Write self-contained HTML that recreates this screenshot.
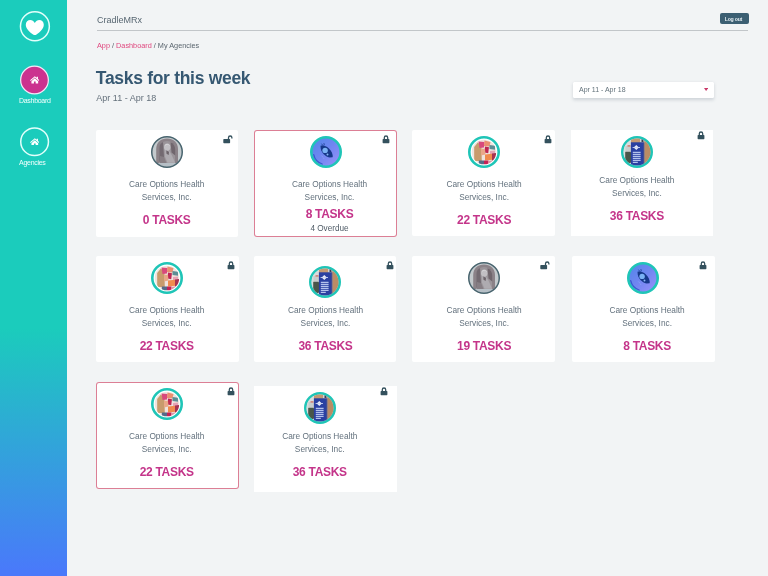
<!DOCTYPE html>
<html><head><meta charset="utf-8"><title>CradleMRx</title>
<style>
html,body{margin:0;padding:0}
body{width:768px;height:576px;position:relative;overflow:hidden;background:#f2f4f5;font-family:"Liberation Sans",sans-serif;color:#5b6b78}
div,svg{position:absolute}
.av svg{position:static;display:block}
#side{left:0;top:0;width:67px;height:576px;background:linear-gradient(180deg,#1bccbc 0%,#1bccbc 57%,#4a78fb 100%)}
.circ{border-radius:50%;box-sizing:border-box}
.sl{color:#f2fffd;font-size:7px;letter-spacing:-0.280px;width:67px;left:0;text-align:center;line-height:8px}
#brand{left:97px;top:14.700px;font-size:9px;line-height:11px;color:#586772}
#hr{left:97px;top:30px;width:651px;height:1px;background:#c2c6c9}
#logout{left:720px;top:13px;width:29px;height:11px;background:#3c5f72;border-radius:2px;color:#e3edf1;text-indent:-2.200px;font-weight:700;font-size:5.200px;line-height:12.400px;text-align:center;letter-spacing:-0.250px}
#bc{left:97px;top:41px;font-size:7.300px;line-height:9px;color:#5a656e;white-space:nowrap}
#bc b{font-weight:400;color:#e0487f}
#title{left:95.800px;top:67.400px;font-size:17.5px;line-height:22px;font-weight:700;color:#365872;letter-spacing:-0.300px;white-space:nowrap}
#sub{left:96.300px;top:92.700px;font-size:9px;line-height:11px;color:#64707b;white-space:nowrap}
#dd{left:573.100px;top:81.600px;width:140.600px;height:16.700px;background:#fff;border-radius:1.500px;box-shadow:0 1.200px 3.500px rgba(60,80,100,.200)}
#ddt{left:579px;top:85px;font-size:7px;line-height:9px;color:#62717a;white-space:nowrap}
#car{left:704.100px;top:88px}
.card{background:#fff}
.nm{width:120px;text-align:center;font-size:8.3px;line-height:12px;color:#63717d;white-space:nowrap}
.tk{width:120px;text-align:center;font-size:12px;line-height:16px;font-weight:700;color:#c4358a;letter-spacing:-0.3px;white-space:nowrap}
.od{width:120px;text-align:center;font-size:8.2px;line-height:12px;color:#4f5b66;white-space:nowrap}
#wrap{left:0;top:0;width:768px;height:576px;will-change:transform;transform:translateZ(0)}
</style></head><body><div id="wrap">
<div id="side"></div>
<svg style="left:0;top:0" width="67" height="180" viewBox="0 0 67 180">
<circle cx="34.900" cy="26.200" r="14.450" fill="none" stroke="#e2fffb" stroke-width="1.500"/>
<path transform="translate(25.800,19.900)" d="M9 3C8 1 6.200 0 4.600 0C2 0 0 2 0 4.800C0 8.500 3.500 12 7.300 14.600C8.300 15.300 9.700 15.300 10.700 14.600C14.500 12 18 8.500 18 4.800C18 2 16 0 13.400 0C11.800 0 10 1 9 3Z" fill="#fff"/>
<circle cx="34.500" cy="80" r="13.850" fill="#cb338f" stroke="#f4e9f7" stroke-width="1.200"/>
<circle cx="34.600" cy="141.750" r="13.850" fill="none" stroke="#e2fffb" stroke-width="1.500"/>
</svg>
<svg style="position:absolute;left:29.7px;top:76.2px" width="9.600" height="7.800" viewBox="0 0 10 8"><path d="M5 0.200L0.100 4.300L0.800 5.100L5 1.600L9.200 5.100L9.900 4.300L8.300 2.950V0.800H7V1.850Z" fill="#fff"/><path d="M5 2.400L1.500 5.300V7.800H4.100V5.700H5.900V7.800H8.500V5.300Z" fill="#fff"/></svg>
<div class="sl" style="top:97px;left:1.300px" id="l1">Dashboard</div>
<svg style="position:absolute;left:29.8px;top:137.6px" width="9.600" height="7.800" viewBox="0 0 10 8"><path d="M5 0.200L0.100 4.300L0.800 5.100L5 1.600L9.200 5.100L9.900 4.300L8.300 2.950V0.800H7V1.850Z" fill="#fff"/><path d="M5 2.400L1.500 5.300V7.800H4.100V5.700H5.900V7.800H8.500V5.300Z" fill="#fff"/></svg>
<div class="sl" style="top:158.700px;left:-1.200px" id="l2">Agencies</div>
<div id="brand">CradleMRx</div><div id="hr"></div><div id="logout">Log out</div>
<div id="bc"><b>App</b> / <b>Dashboard</b> / My Agencies</div>
<div id="title">Tasks for this week</div>
<div id="sub">Apr 11 - Apr 18</div>
<div id="dd"></div><div id="ddt">Apr 11 - Apr 18</div><svg id="car" width="4.200" height="3" viewBox="0 0 4.200 3"><path d="M0 0h4.200L2.100 2.900z" fill="#c93a6a"/></svg>
<div class="card" style="left:96px;top:130.3px;width:142.3px;height:106.3px;border-radius:2px;"></div>
<div class="av" style="left:150.90px;top:135.60px"><svg width="32" height="32" viewBox="0 0 32 32"><defs><clipPath id="cS1"><circle cx="16" cy="16" r="14.700"/></clipPath><filter id="fS1" x="-10%" y="-10%" width="120%" height="120%"><feGaussianBlur stdDeviation="0.600"/></filter></defs>
<circle cx="16" cy="16" r="15.300" fill="#c6cccf"/>
<g clip-path="url(#cS1)"><g filter="url(#fS1)">
<rect x="0" y="0" width="32" height="32" fill="#c4cacd"/>
<path d="M5.200 29V13C5.200 6 10 2.400 16 2.400S27 6 27 13V29Z" fill="#8b8288"/>
<path d="M8 27V13.500C8 8 12 5 16 5S24 8 24 13.500V27Z" fill="#9a9499"/>
<path d="M8.300 12c0-3 1.500-5 3.700-6l1.200 17.500-4.900 2.500z" fill="#736b71"/>
<path d="M19.500 6.300c3 1 4.700 3.700 4.700 7.200v6l-3.700-3z" fill="#6f666d"/>
<ellipse cx="16.200" cy="11.200" rx="3.200" ry="3.700" fill="#c2c0c4"/>
<path d="M14 9.500c1-1.500 3.500-1.500 4.500 0" stroke="#d6d5d8" stroke-width="1" fill="none"/>
<path d="M13.600 13.800l4.800 1.200 2.400 4.300 3.400 7.500h-7.700l-2.500-6z" fill="#aeabb0"/>
<path d="M15.300 14.500l2.700 1.200-0.300 3.300-2.200-1.200z" fill="#6d656b"/>
<path d="M9 20l4 1 2.500 6H9z" fill="#867e84"/>
<rect x="4" y="27" width="24" height="5" fill="#b6bfc6"/>
</g></g>
<circle cx="16" cy="16" r="15.250" fill="none" stroke="#48646e" stroke-width="1.500"/></svg></div>
<div class="nm" style="left:106.70px;top:178px">Care Options Health</div>
<div class="nm" style="left:106.70px;top:191px">Services, Inc.</div>
<div class="tk" style="left:106.70px;top:212px">0 TASKS</div>
<svg class="lk" style="left:223px;top:135.2px" width="10" height="9" viewBox="0 0 10 9"><path d="M5.500 4.300V2.700a1.700 1.700 0 0 1 3.400 0v0.900" fill="none" stroke="#34515d" stroke-width="1.300"/><rect x="0.300" y="4" width="6.800" height="4.300" rx="0.700" fill="#34515d"/></svg>
<div class="card" style="left:253.9px;top:129.6px;width:143.1px;height:107px;border-radius:3px;box-shadow:inset 0 0 0 1px #dc7f95;"></div>
<div class="av" style="left:309.50px;top:135.60px"><svg width="32" height="32" viewBox="0 0 32 32"><defs><linearGradient id="gR7" x1="0.100" y1="0.100" x2="0.900" y2="0.900"><stop offset="0" stop-color="#5586ea"/><stop offset="0.500" stop-color="#7186f1"/><stop offset="1" stop-color="#9390f8"/></linearGradient><filter id="fR7" x="-20%" y="-20%" width="140%" height="140%"><feGaussianBlur stdDeviation="0.350"/></filter></defs>
<circle cx="16" cy="16" r="14.700" fill="url(#gR7)" stroke="#1fc5b7" stroke-width="2.600"/>
<path d="M3.700 18.700A12.600 12.600 0 0 0 12.200 28" fill="none" stroke="#2f55c8" stroke-width="1.300" stroke-linecap="round" opacity="0.850" filter="url(#fR7)"/>
<g filter="url(#fR7)"><path d="M10.500 9.700C14 8.500 19.200 10.800 21.700 16.300C22.800 18.800 23 20.500 22.500 21.300L19.500 21.500C15 20.600 10.300 16 10.500 9.700Z" fill="#17398a"/>
<path d="M11.500 7.700L13 9.700M13.900 7.100L14.300 9.100" stroke="#1c3f90" stroke-width="0.800"/>
<circle cx="15.100" cy="14.400" r="2.700" fill="#7ab1f5"/>
<circle cx="17.500" cy="18.500" r="0.950" fill="#8ab8f6"/>
<path d="M11.300 19.500l1.500 1.500M12.800 21.800l1.500 0.800" stroke="#9fb2f7" stroke-width="0.700" opacity="0.700"/></g></svg></div>
<div class="nm" style="left:269.50px;top:178px">Care Options Health</div>
<div class="nm" style="left:269.50px;top:191px">Services, Inc.</div>
<div class="tk" style="left:269.50px;top:206px">8 TASKS</div>
<div class="od" style="left:269.50px;top:223px">4 Overdue</div>
<svg class="lk" style="left:381.7px;top:134.9px" width="8" height="9" viewBox="0 0 8 9"><path d="M2.300 4.300V2.700a1.700 1.700 0 0 1 3.400 0v1.600" fill="none" stroke="#34515d" stroke-width="1.300"/><rect x="0.600" y="4" width="6.800" height="4.300" rx="0.700" fill="#34515d"/></svg>
<div class="card" style="left:412.2px;top:130.3px;width:143.05px;height:106px;border-radius:2px;"></div>
<div class="av" style="left:468.00px;top:135.60px"><svg width="32" height="32" viewBox="0 0 32 32"><defs><clipPath id="cC14"><circle cx="16" cy="16" r="12.300"/></clipPath><filter id="fC14" x="-10%" y="-10%" width="120%" height="120%"><feGaussianBlur stdDeviation="0.600"/></filter></defs>
<circle cx="16" cy="16" r="14.700" fill="#fff" stroke="#1fc5b7" stroke-width="2.600"/>
<g clip-path="url(#cC14)"><g filter="url(#fC14)"><rect x="3" y="3" width="26" height="26" fill="#efe4df"/>
<path d="M6.200 11l3.600-4.600 3.600 3.600 0.400 15-7.600 0z" fill="#c89b6c"/>
<path d="M10.500 5.500l6 0.500-0.500 5.500-4.500 0.500z" fill="#d84a7c"/>
<path d="M16.500 4.500l6 1.500-1 4.500-5.500-0.500z" fill="#ea8f70"/>
<path d="M21.500 9l5.500 0.700v4l-5.500-0.700z" fill="#5b8d94"/>
<path d="M17 10.500l4 0.800-0.800 6-3.800-0.800z" fill="#bf2852"/>
<path d="M13 12.500l4 0.500 0.500 5.500-4.500 1z" fill="#e9a888"/>
<path d="M22 15l5-0.500 0 4-5 0.500z" fill="#e7a3b4"/>
<path d="M17 18.500l7-0.700 0.500 6-7.500 0.700z" fill="#f08c4e"/>
<path d="M24 17.500l4-0.500v7l-4 0.800z" fill="#a83250"/>
<path d="M10.800 24.500l5.200 0 0 5-5.200-0.500z" fill="#566a88"/>
<path d="M16 24.500l4.500 0 0 5-4.500 0z" fill="#c32357"/>
<path d="M20.500 25l5-0.800 0 4.500-5 0.800z" fill="#dc94a4"/></g></g></svg></div>
<div class="nm" style="left:424.10px;top:178px">Care Options Health</div>
<div class="nm" style="left:424.10px;top:191px">Services, Inc.</div>
<div class="tk" style="left:424.10px;top:212px">22 TASKS</div>
<svg class="lk" style="left:543.8px;top:134.9px" width="8" height="9" viewBox="0 0 8 9"><path d="M2.300 4.300V2.700a1.700 1.700 0 0 1 3.400 0v1.600" fill="none" stroke="#34515d" stroke-width="1.300"/><rect x="0.600" y="4" width="6.800" height="4.300" rx="0.700" fill="#34515d"/></svg>
<div class="card" style="left:571.2px;top:130px;width:142.3px;height:105.8px;border-radius:0px;"></div>
<div class="av" style="left:621.00px;top:135.60px"><svg width="32" height="32" viewBox="0 0 32 32"><defs><clipPath id="cG20"><circle cx="16" cy="16" r="13.500"/></clipPath><filter id="fG20" x="-10%" y="-10%" width="120%" height="120%"><feGaussianBlur stdDeviation="0.450"/></filter></defs>
<circle cx="16" cy="16" r="14.700" fill="#dde1e3" stroke="#1fc5b7" stroke-width="2.600"/>
<g clip-path="url(#cG20)"><g filter="url(#fG20)"><rect x="2" y="2" width="10" height="28" fill="#d9dcdd"/>
<rect x="4.200" y="15.500" width="5.800" height="11.500" rx="1" fill="#4a5648"/><rect x="4.500" y="10" width="5.500" height="5.500" fill="#c9cdcc"/><rect x="6.500" y="9" width="3" height="1.800" fill="#d08a80"/>
<rect x="23.300" y="2" width="8" height="28" fill="#ba8c65"/>
<rect x="10" y="2" width="12.500" height="5" fill="#c49973"/><rect x="19" y="2" width="4" height="4.500" fill="#cfd3d6"/><rect x="20.500" y="3" width="2" height="3" fill="#3b4254"/>
<rect x="9.900" y="6.300" width="12.500" height="23.500" fill="#2a3fa2"/>
<rect x="22.300" y="6.300" width="1" height="23.500" fill="#1d2a78"/>
<path d="M15.300 8.900l2.600 2.600-2.600 2.600-2.600-2.600z" fill="#e6ebf8"/><path d="M11.600 11.500h7.400" stroke="#cbd4f2" stroke-width="0.900"/>
<path d="M11.800 16.300h7.800M11.800 18.300h7.800M11.800 20.300h7.800M11.800 22.300h7.800M11.800 24.300h7.800M11.800 26.400h5" stroke="#b3c1ec" stroke-width="1.250"/></g></g></svg></div>
<div class="nm" style="left:576.90px;top:174px">Care Options Health</div>
<div class="nm" style="left:576.90px;top:187px">Services, Inc.</div>
<div class="tk" style="left:576.90px;top:208px">36 TASKS</div>
<svg class="lk" style="left:696.8px;top:131.2px" width="8" height="9" viewBox="0 0 8 9"><path d="M2.300 4.300V2.700a1.700 1.700 0 0 1 3.400 0v1.600" fill="none" stroke="#34515d" stroke-width="1.300"/><rect x="0.600" y="4" width="6.800" height="4.300" rx="0.700" fill="#34515d"/></svg>
<div class="card" style="left:96px;top:255.7px;width:142.5px;height:106.5px;border-radius:2px;"></div>
<div class="av" style="left:150.90px;top:261.65px"><svg width="32" height="32" viewBox="0 0 32 32"><defs><clipPath id="cC26"><circle cx="16" cy="16" r="12.300"/></clipPath><filter id="fC26" x="-10%" y="-10%" width="120%" height="120%"><feGaussianBlur stdDeviation="0.600"/></filter></defs>
<circle cx="16" cy="16" r="14.700" fill="#fff" stroke="#1fc5b7" stroke-width="2.600"/>
<g clip-path="url(#cC26)"><g filter="url(#fC26)"><rect x="3" y="3" width="26" height="26" fill="#efe4df"/>
<path d="M6.200 11l3.600-4.600 3.600 3.600 0.400 15-7.600 0z" fill="#c89b6c"/>
<path d="M10.500 5.500l6 0.500-0.500 5.500-4.500 0.500z" fill="#d84a7c"/>
<path d="M16.500 4.500l6 1.500-1 4.500-5.500-0.500z" fill="#ea8f70"/>
<path d="M21.500 9l5.500 0.700v4l-5.500-0.700z" fill="#5b8d94"/>
<path d="M17 10.500l4 0.800-0.800 6-3.800-0.800z" fill="#bf2852"/>
<path d="M13 12.500l4 0.500 0.500 5.500-4.500 1z" fill="#e9a888"/>
<path d="M22 15l5-0.500 0 4-5 0.500z" fill="#e7a3b4"/>
<path d="M17 18.500l7-0.700 0.500 6-7.500 0.700z" fill="#f08c4e"/>
<path d="M24 17.500l4-0.500v7l-4 0.800z" fill="#a83250"/>
<path d="M10.800 24.500l5.200 0 0 5-5.200-0.500z" fill="#566a88"/>
<path d="M16 24.500l4.500 0 0 5-4.500 0z" fill="#c32357"/>
<path d="M20.500 25l5-0.800 0 4.500-5 0.800z" fill="#dc94a4"/></g></g></svg></div>
<div class="nm" style="left:106.70px;top:304px">Care Options Health</div>
<div class="nm" style="left:106.70px;top:317px">Services, Inc.</div>
<div class="tk" style="left:106.70px;top:338px">22 TASKS</div>
<svg class="lk" style="left:226.9px;top:260.9px" width="8" height="9" viewBox="0 0 8 9"><path d="M2.300 4.300V2.700a1.700 1.700 0 0 1 3.400 0v1.600" fill="none" stroke="#34515d" stroke-width="1.300"/><rect x="0.600" y="4" width="6.800" height="4.300" rx="0.700" fill="#34515d"/></svg>
<div class="card" style="left:254.2px;top:255.7px;width:142px;height:106.8px;border-radius:2px;"></div>
<div class="av" style="left:309.10px;top:265.50px"><svg width="32" height="32" viewBox="0 0 32 32"><defs><clipPath id="cG32"><circle cx="16" cy="16" r="13.500"/></clipPath><filter id="fG32" x="-10%" y="-10%" width="120%" height="120%"><feGaussianBlur stdDeviation="0.450"/></filter></defs>
<circle cx="16" cy="16" r="14.700" fill="#dde1e3" stroke="#1fc5b7" stroke-width="2.600"/>
<g clip-path="url(#cG32)"><g filter="url(#fG32)"><rect x="2" y="2" width="10" height="28" fill="#d9dcdd"/>
<rect x="4.200" y="15.500" width="5.800" height="11.500" rx="1" fill="#4a5648"/><rect x="4.500" y="10" width="5.500" height="5.500" fill="#c9cdcc"/><rect x="6.500" y="9" width="3" height="1.800" fill="#d08a80"/>
<rect x="23.300" y="2" width="8" height="28" fill="#ba8c65"/>
<rect x="10" y="2" width="12.500" height="5" fill="#c49973"/><rect x="19" y="2" width="4" height="4.500" fill="#cfd3d6"/><rect x="20.500" y="3" width="2" height="3" fill="#3b4254"/>
<rect x="9.900" y="6.300" width="12.500" height="23.500" fill="#2a3fa2"/>
<rect x="22.300" y="6.300" width="1" height="23.500" fill="#1d2a78"/>
<path d="M15.300 8.900l2.600 2.600-2.600 2.600-2.600-2.600z" fill="#e6ebf8"/><path d="M11.600 11.500h7.400" stroke="#cbd4f2" stroke-width="0.900"/>
<path d="M11.800 16.300h7.800M11.800 18.300h7.800M11.800 20.300h7.800M11.800 22.300h7.800M11.800 24.300h7.800M11.800 26.400h5" stroke="#b3c1ec" stroke-width="1.250"/></g></g></svg></div>
<div class="nm" style="left:265.50px;top:304px">Care Options Health</div>
<div class="nm" style="left:265.50px;top:317px">Services, Inc.</div>
<div class="tk" style="left:265.50px;top:338px">36 TASKS</div>
<svg class="lk" style="left:385.6px;top:260.9px" width="8" height="9" viewBox="0 0 8 9"><path d="M2.300 4.300V2.700a1.700 1.700 0 0 1 3.400 0v1.600" fill="none" stroke="#34515d" stroke-width="1.300"/><rect x="0.600" y="4" width="6.800" height="4.300" rx="0.700" fill="#34515d"/></svg>
<div class="card" style="left:412.2px;top:255.9px;width:143.1px;height:106.4px;border-radius:2px;"></div>
<div class="av" style="left:468.00px;top:261.65px"><svg width="32" height="32" viewBox="0 0 32 32"><defs><clipPath id="cS38"><circle cx="16" cy="16" r="14.700"/></clipPath><filter id="fS38" x="-10%" y="-10%" width="120%" height="120%"><feGaussianBlur stdDeviation="0.600"/></filter></defs>
<circle cx="16" cy="16" r="15.300" fill="#c6cccf"/>
<g clip-path="url(#cS38)"><g filter="url(#fS38)">
<rect x="0" y="0" width="32" height="32" fill="#c4cacd"/>
<path d="M5.200 29V13C5.200 6 10 2.400 16 2.400S27 6 27 13V29Z" fill="#8b8288"/>
<path d="M8 27V13.500C8 8 12 5 16 5S24 8 24 13.500V27Z" fill="#9a9499"/>
<path d="M8.300 12c0-3 1.500-5 3.700-6l1.200 17.500-4.900 2.500z" fill="#736b71"/>
<path d="M19.500 6.300c3 1 4.700 3.700 4.700 7.200v6l-3.700-3z" fill="#6f666d"/>
<ellipse cx="16.200" cy="11.200" rx="3.200" ry="3.700" fill="#c2c0c4"/>
<path d="M14 9.500c1-1.500 3.500-1.500 4.500 0" stroke="#d6d5d8" stroke-width="1" fill="none"/>
<path d="M13.600 13.800l4.800 1.200 2.400 4.300 3.400 7.500h-7.700l-2.500-6z" fill="#aeabb0"/>
<path d="M15.300 14.500l2.700 1.200-0.300 3.300-2.200-1.200z" fill="#6d656b"/>
<path d="M9 20l4 1 2.500 6H9z" fill="#867e84"/>
<rect x="4" y="27" width="24" height="5" fill="#b6bfc6"/>
</g></g>
<circle cx="16" cy="16" r="15.250" fill="none" stroke="#48646e" stroke-width="1.500"/></svg></div>
<div class="nm" style="left:424.10px;top:304px">Care Options Health</div>
<div class="nm" style="left:424.10px;top:317px">Services, Inc.</div>
<div class="tk" style="left:424.10px;top:338px">19 TASKS</div>
<svg class="lk" style="left:540px;top:261.2px" width="10" height="9" viewBox="0 0 10 9"><path d="M5.500 4.300V2.700a1.700 1.700 0 0 1 3.400 0v0.900" fill="none" stroke="#34515d" stroke-width="1.300"/><rect x="0.300" y="4" width="6.800" height="4.300" rx="0.700" fill="#34515d"/></svg>
<div class="card" style="left:571.7px;top:255.7px;width:143px;height:106.6px;border-radius:2px;"></div>
<div class="av" style="left:627.00px;top:261.65px"><svg width="32" height="32" viewBox="0 0 32 32"><defs><linearGradient id="gR44" x1="0.100" y1="0.100" x2="0.900" y2="0.900"><stop offset="0" stop-color="#5586ea"/><stop offset="0.500" stop-color="#7186f1"/><stop offset="1" stop-color="#9390f8"/></linearGradient><filter id="fR44" x="-20%" y="-20%" width="140%" height="140%"><feGaussianBlur stdDeviation="0.350"/></filter></defs>
<circle cx="16" cy="16" r="14.700" fill="url(#gR44)" stroke="#1fc5b7" stroke-width="2.600"/>
<path d="M3.700 18.700A12.600 12.600 0 0 0 12.200 28" fill="none" stroke="#2f55c8" stroke-width="1.300" stroke-linecap="round" opacity="0.850" filter="url(#fR44)"/>
<g filter="url(#fR44)"><path d="M10.500 9.700C14 8.500 19.200 10.800 21.700 16.300C22.800 18.800 23 20.500 22.500 21.300L19.500 21.500C15 20.600 10.300 16 10.500 9.700Z" fill="#17398a"/>
<path d="M11.500 7.700L13 9.700M13.900 7.100L14.300 9.100" stroke="#1c3f90" stroke-width="0.800"/>
<circle cx="15.100" cy="14.400" r="2.700" fill="#7ab1f5"/>
<circle cx="17.500" cy="18.500" r="0.950" fill="#8ab8f6"/>
<path d="M11.300 19.500l1.500 1.500M12.800 21.800l1.500 0.800" stroke="#9fb2f7" stroke-width="0.700" opacity="0.700"/></g></svg></div>
<div class="nm" style="left:587.10px;top:304px">Care Options Health</div>
<div class="nm" style="left:587.10px;top:317px">Services, Inc.</div>
<div class="tk" style="left:587.10px;top:338px">8 TASKS</div>
<svg class="lk" style="left:699.1px;top:260.9px" width="8" height="9" viewBox="0 0 8 9"><path d="M2.300 4.300V2.700a1.700 1.700 0 0 1 3.400 0v1.600" fill="none" stroke="#34515d" stroke-width="1.300"/><rect x="0.600" y="4" width="6.800" height="4.300" rx="0.700" fill="#34515d"/></svg>
<div class="card" style="left:95.5px;top:381.5px;width:143.3px;height:107.4px;border-radius:3px;box-shadow:inset 0 0 0 1px #dc7f95;"></div>
<div class="av" style="left:150.90px;top:387.65px"><svg width="32" height="32" viewBox="0 0 32 32"><defs><clipPath id="cC50"><circle cx="16" cy="16" r="12.300"/></clipPath><filter id="fC50" x="-10%" y="-10%" width="120%" height="120%"><feGaussianBlur stdDeviation="0.600"/></filter></defs>
<circle cx="16" cy="16" r="14.700" fill="#fff" stroke="#1fc5b7" stroke-width="2.600"/>
<g clip-path="url(#cC50)"><g filter="url(#fC50)"><rect x="3" y="3" width="26" height="26" fill="#efe4df"/>
<path d="M6.200 11l3.600-4.600 3.600 3.600 0.400 15-7.600 0z" fill="#c89b6c"/>
<path d="M10.500 5.500l6 0.500-0.500 5.500-4.500 0.500z" fill="#d84a7c"/>
<path d="M16.500 4.500l6 1.500-1 4.500-5.500-0.500z" fill="#ea8f70"/>
<path d="M21.500 9l5.500 0.700v4l-5.500-0.700z" fill="#5b8d94"/>
<path d="M17 10.500l4 0.800-0.800 6-3.800-0.800z" fill="#bf2852"/>
<path d="M13 12.500l4 0.500 0.500 5.500-4.500 1z" fill="#e9a888"/>
<path d="M22 15l5-0.500 0 4-5 0.500z" fill="#e7a3b4"/>
<path d="M17 18.500l7-0.700 0.500 6-7.500 0.700z" fill="#f08c4e"/>
<path d="M24 17.500l4-0.500v7l-4 0.800z" fill="#a83250"/>
<path d="M10.800 24.500l5.200 0 0 5-5.200-0.500z" fill="#566a88"/>
<path d="M16 24.500l4.500 0 0 5-4.500 0z" fill="#c32357"/>
<path d="M20.500 25l5-0.800 0 4.500-5 0.800z" fill="#dc94a4"/></g></g></svg></div>
<div class="nm" style="left:106.70px;top:430px">Care Options Health</div>
<div class="nm" style="left:106.70px;top:443px">Services, Inc.</div>
<div class="tk" style="left:106.70px;top:464px">22 TASKS</div>
<svg class="lk" style="left:226.9px;top:386.9px" width="8" height="9" viewBox="0 0 8 9"><path d="M2.300 4.300V2.700a1.700 1.700 0 0 1 3.400 0v1.600" fill="none" stroke="#34515d" stroke-width="1.300"/><rect x="0.600" y="4" width="6.800" height="4.300" rx="0.700" fill="#34515d"/></svg>
<div class="card" style="left:254px;top:385.6px;width:142.5px;height:106.1px;border-radius:0px;"></div>
<div class="av" style="left:303.75px;top:391.65px"><svg width="32" height="32" viewBox="0 0 32 32"><defs><clipPath id="cG56"><circle cx="16" cy="16" r="13.500"/></clipPath><filter id="fG56" x="-10%" y="-10%" width="120%" height="120%"><feGaussianBlur stdDeviation="0.450"/></filter></defs>
<circle cx="16" cy="16" r="14.700" fill="#dde1e3" stroke="#1fc5b7" stroke-width="2.600"/>
<g clip-path="url(#cG56)"><g filter="url(#fG56)"><rect x="2" y="2" width="10" height="28" fill="#d9dcdd"/>
<rect x="4.200" y="15.500" width="5.800" height="11.500" rx="1" fill="#4a5648"/><rect x="4.500" y="10" width="5.500" height="5.500" fill="#c9cdcc"/><rect x="6.500" y="9" width="3" height="1.800" fill="#d08a80"/>
<rect x="23.300" y="2" width="8" height="28" fill="#ba8c65"/>
<rect x="10" y="2" width="12.500" height="5" fill="#c49973"/><rect x="19" y="2" width="4" height="4.500" fill="#cfd3d6"/><rect x="20.500" y="3" width="2" height="3" fill="#3b4254"/>
<rect x="9.900" y="6.300" width="12.500" height="23.500" fill="#2a3fa2"/>
<rect x="22.300" y="6.300" width="1" height="23.500" fill="#1d2a78"/>
<path d="M15.300 8.900l2.600 2.600-2.600 2.600-2.600-2.600z" fill="#e6ebf8"/><path d="M11.600 11.500h7.400" stroke="#cbd4f2" stroke-width="0.900"/>
<path d="M11.800 16.300h7.800M11.800 18.300h7.800M11.800 20.300h7.800M11.800 22.300h7.800M11.800 24.300h7.800M11.800 26.400h5" stroke="#b3c1ec" stroke-width="1.250"/></g></g></svg></div>
<div class="nm" style="left:259.75px;top:430px">Care Options Health</div>
<div class="nm" style="left:259.75px;top:443px">Services, Inc.</div>
<div class="tk" style="left:259.75px;top:464px">36 TASKS</div>
<svg class="lk" style="left:379.7px;top:386.9px" width="8" height="9" viewBox="0 0 8 9"><path d="M2.300 4.300V2.700a1.700 1.700 0 0 1 3.400 0v1.600" fill="none" stroke="#34515d" stroke-width="1.300"/><rect x="0.600" y="4" width="6.800" height="4.300" rx="0.700" fill="#34515d"/></svg>
</div></body></html>
